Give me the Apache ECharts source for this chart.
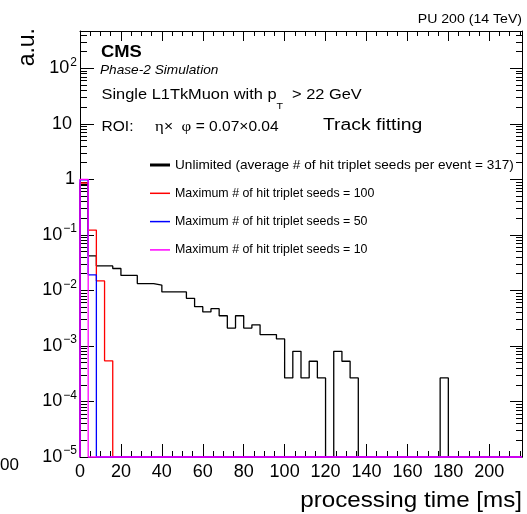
<!DOCTYPE html>
<html>
<head>
<meta charset="utf-8">
<script src="https://cdn.jsdelivr.net/npm/echarts@6/dist/echarts.min.js"></script>
<style>
  html, body { margin: 0; padding: 0; background: #fff; }
  #c { width: 527px; height: 514px; }
</style>
</head>
<body>
<div id="c"></div>
<script>
// Histogram binning of the processing time [ms]
const BIN_WIDTH = 4;
const X_MAX = 216;
const Y_MIN = 1e-5;
const Y_MAX = 470;

// Normalised bin contents (a.u.), one entry per 4 ms bin starting at 0; missing bins are empty
const unlimited = [
  0.80, 0.042, 0.0276, 0.0276, 0.0248, 0.0186, 0.0186, 0.0133, 0.0133, 0.0125,
  0.0094, 0.0094, 0.0094, 0.0072, 0.0051, 0.0041, 0.0047, 0.0035, 0.0021, 0.0035,
  0.0021, 0.0024, 0.0016, 0.0016, 0.00134, 0.000265, 0.0008, 0.000265, 0.00053, 0.000265,
  0, 0.0008, 0.00053, 0.000265, 0, 0, 0, 0, 0, 0,
  0, 0, 0, 0, 0.000265
];
const max100 = [0.86, 0.122, 0.0148, 0.00054];
const max50 = [0.98, 0.019];
const max10 = [1.0];

const SERIES_NAMES = [
  'Unlimited (average # of hit triplet seeds per event = 317)',
  'Maximum # of hit triplet seeds = 100',
  'Maximum # of hit triplet seeds = 50',
  'Maximum # of hit triplet seeds = 10'
];
const SERIES_COLORS = ['#000000', '#ff0000', '#0000ff', '#ff00ff'];
const LEGEND_ICONS = [
  'path://M0,0 H20 V3 H0 Z',
  'path://M0,0 H20 V1.5 H0 Z',
  'path://M0,0 H20 V1.5 H0 Z',
  'path://M0,0 H20 V1.5 H0 Z'
];
const LEGEND_FONT_SIZES = [13.6, 12.4, 12.4, 12.4];

// Axis ticks
const X_TICKS = [0, 20, 40, 60, 80, 100, 120, 140, 160, 180, 200];
const X_MINOR = [];
for (let v = 5; v < X_MAX; v += 5) if (v % 20 !== 0) X_MINOR.push(v);
const Y_DECADES = [-5, -4, -3, -2, -1, 0, 1, 2];
const LOG_TOP = Math.log10(Y_MAX);
const Y_MINOR_EXP = [];
for (const e of Y_DECADES) {
  for (let k = 2; k <= 9; k++) {
    const v = k * Math.pow(10, e);
    if (v < Y_MAX) Y_MINOR_EXP.push(Math.log10(v));
  }
}

const FONT = '"Liberation Sans", Arial, Helvetica, sans-serif';
const SERIF = '"Liberation Serif", "DejaVu Serif", serif';
const SX = 1.12;

// Step outline of a histogram; empty bins sit on the lower frame edge
function histogramOutline(values) {
  const nBins = Math.round(X_MAX / BIN_WIDTH);
  const pts = [[0, Y_MIN]];
  for (let i = 0; i < nBins; i++) {
    pts.push([i * BIN_WIDTH, Math.max(values[i] || 0, Y_MIN)]);
  }
  pts.push([X_MAX, Math.max(values[nBins - 1] || 0, Y_MIN)]);
  pts.push([X_MAX, Y_MIN]);
  return pts;
}

const histograms = [unlimited, max100, max50, max10];

function decadeLabel(v) {
  const e = Math.round(Math.log10(v));
  if (e === 0) return '{one|1}';
  if (e === 1) return '{p|10}';
  return '{b|10}{s|' + (e < 0 ? '\u2212' + (-e) : e) + '}';
}

const frameLine = { show: true, onZero: false, lineStyle: { color: '#000', width: 1 } };
const noLine = { show: false, onZero: false };

function tickAxis(position, min, max, values, length, withLine) {
  return {
    type: 'value', position: position, min: min, max: max,
    axisLine: withLine ? frameLine : noLine,
    splitLine: { show: false }, axisLabel: { show: false },
    axisTick: { inside: true, length: length, customValues: values, lineStyle: { color: '#000' } }
  };
}

function text(x, y, content, opts) {
  return Object.assign({
    type: 'text', x: x, y: y, scaleX: SX, silent: true, z: 10,
    style: Object.assign({
      text: content, fill: '#000', fontFamily: FONT,
      align: 'left', verticalAlign: 'middle'
    }, opts.style || {})
  }, opts.el || {});
}

const chart = echarts.init(document.getElementById('c'));
chart.setOption({
  animation: false,
  backgroundColor: '#fff',
  grid: { left: 80, right: 5, top: 31, bottom: 57 },
  xAxis: [
    {
      type: 'value', position: 'bottom', min: 0, max: X_MAX,
      axisLine: frameLine, splitLine: { show: false },
      axisTick: { inside: true, length: 13, customValues: X_TICKS, lineStyle: { color: '#000' } },
      axisLabel: { customValues: X_TICKS, color: '#000', fontSize: 18, fontFamily: FONT, margin: 6 }
    },
    tickAxis('bottom', 0, X_MAX, X_MINOR, 6, false),
    tickAxis('top', 0, X_MAX, X_TICKS, 10, true),
    tickAxis('top', 0, X_MAX, X_MINOR, 5, false)
  ],
  yAxis: [
    {
      type: 'log', logBase: 10, position: 'left', min: Y_MIN, max: Y_MAX,
      axisLine: frameLine, splitLine: { show: false },
      axisTick: { inside: true, length: 14, lineStyle: { color: '#000' } },
      axisLabel: {
        color: '#000', margin: 3, showMaxLabel: false,
        formatter: decadeLabel,
        rich: {
          b: { fontSize: 18, fontFamily: FONT, color: '#000' },
          p: { fontSize: 18, fontFamily: FONT, color: '#000', padding: [0, 5, 0, 0] },
          one: { fontSize: 18, fontFamily: FONT, color: '#000', padding: [0, 2, 0, 0] },
          s: { fontSize: 12, fontFamily: FONT, color: '#000', padding: [0, 0, 12, 1] }
        }
      }
    },
    tickAxis('left', -5, LOG_TOP, Y_MINOR_EXP, 7, false),
    tickAxis('right', -5, LOG_TOP, Y_DECADES, 12, true),
    tickAxis('right', -5, LOG_TOP, Y_MINOR_EXP, 6, false)
  ],
  legend: {
    show: true,
    orient: 'vertical', left: 150, top: 157, itemGap: 12.3,
    itemWidth: 20, itemHeight: 14, padding: 0, selectedMode: false,
    textStyle: { color: '#000', fontSize: 12.4, fontFamily: FONT, lineHeight: 16 },
    data: SERIES_NAMES.map((n, i) => ({
      name: n,
      icon: LEGEND_ICONS[i],
      itemStyle: { color: SERIES_COLORS[i], borderWidth: 0 },
      textStyle: { color: '#000', fontSize: LEGEND_FONT_SIZES[i], fontFamily: FONT, lineHeight: 16 }
    }))
  },
  series: histograms.map((h, i) => ({
    type: 'line', name: SERIES_NAMES[i],
    xAxisIndex: 0, yAxisIndex: 0,
    data: histogramOutline(h),
    step: 'end', symbol: 'none', showSymbol: false, clip: false, z: 2 + i,
    lineStyle: { color: SERIES_COLORS[i], width: 1.3 },
    itemStyle: { color: SERIES_COLORS[i] }
  })),
  graphic: [
    text(522, 19.5, 'PU 200 (14 TeV)', { style: { fontSize: 12.6, align: 'right' } }),
    text(101, 52, 'CMS', { style: { fontSize: 16.4, fontWeight: 'bold' } }),
    text(100, 71, 'Phase-2 Simulation', { style: { fontSize: 12.2, fontStyle: 'italic' } }),
    text(101.5, 94.5, '{a|Single L1TkMuon with p}{t|T}{a| > 22 GeV}', {
      style: {
        rich: {
          a: { fontSize: 14.65, fontFamily: FONT, fill: '#000' },
          t: { fontSize: 9.5, fontFamily: FONT, fill: '#000', padding: [24, 4, 0, 0] }
        }
      }
    }),
    text(101.5, 127.5, '{a|ROI:     }{g|\u03b7}{a|\u00d7  }{g|\u03c6}{a| = 0.07\u00d70.04}', {
      style: {
        rich: {
          a: { fontSize: 13.9, fontFamily: FONT, fill: '#000' },
          g: { fontSize: 15, fontFamily: SERIF, fill: '#000' }
        }
      }
    }),
    text(323, 125, 'Track fitting', { style: { fontSize: 17.3 } }),
    text(522, 501, 'processing time [ms]', { style: { fontSize: 21.6, align: 'right' } }),
    text(28, 28, 'a.u.', {
      el: { rotation: Math.PI / 2, scaleX: 1 },
      style: { fontSize: 23, align: 'right' }
    }),
    text(0, 465, '00', { el: { scaleX: 1 }, style: { fontSize: 17 } })
  ]
});
</script>
</body>
</html>
